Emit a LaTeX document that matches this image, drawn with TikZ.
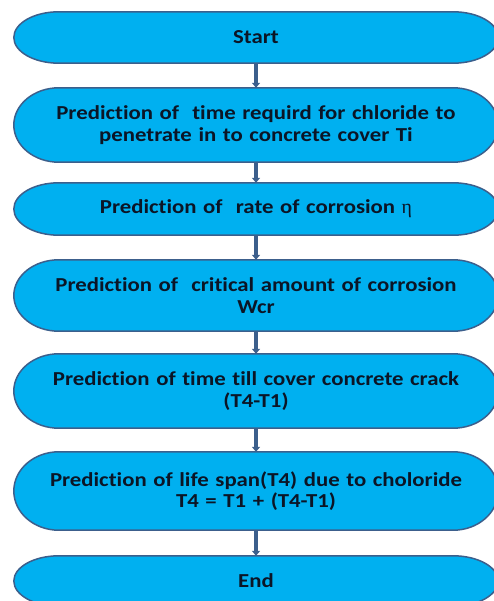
\documentclass[tikz,border=0pt]{standalone}
\usepackage{fontspec}
\setmainfont{Carlito}[FakeStretch=1.15,Ligatures=NoCommon]
\newfontfamily\grk{Liberation Serif}
\usetikzlibrary{arrows.meta,backgrounds,calc}
\definecolor{boxfill}{HTML}{00B0F0}
\definecolor{boxedge}{HTML}{3C5F8C}
\definecolor{txt}{HTML}{0B1526}
\begin{document}
\begin{tikzpicture}[x=1pt,y=1pt,font=\fontsize{19.8}{21.5}\selectfont\bfseries,
	stage/.style={minimum width=484pt,minimum height=#1,text width=460pt,align=center,inner sep=0pt,text=txt},
	flow/.style={draw=boxedge,line width=3.5pt,-{Triangle[width=8pt,length=5pt]}}]
	\def\R{45pt} % ends of the boxes
	\useasboundingbox (0,0) rectangle (493,-601);
	\clip (0,0) rectangle (493,-601);
	\node[stage=51pt] (start) at (256,-37.5) {Start};
	\node[stage=74pt] (ti) at (256,-125) {Prediction of\ \ time requird for chloride to\\penetrate in to concrete cover Ti};
	\node[stage=52pt] (eta) at (256,-209) {Prediction of\ \ rate of corrosion {\grk\mdseries η}};
	\node[stage=71pt] (wcr) at (256,-295.5) {Prediction of\ \ critical amount of corrosion\\Wcr};
	\node[stage=74pt] (crack) at (256,-391) {Prediction of time till cover concrete crack\\(T4-T1)};
	\node[stage=78pt] (life) at (256,-491) {Prediction of life span(T4) due to choloride\\T4 = T1 + (T4-T1)};
	\node[stage=50pt] (end) at (256,-581) {End};
	\begin{scope}[on background layer]
		\foreach \b in {start,ti,eta,wcr,crack,life,end}
		\draw[draw=boxedge,fill=boxfill,line width=1.5pt] let \p1=(\b.north), \p2=(\b.south) in
			([xshift=\R]\b.north west) -- ([xshift=-\R]\b.north east)
			arc[start angle=90,end angle=-90,x radius=\R,y radius={(\y1-\y2)/2}]
			-- ([xshift=\R]\b.south west)
			arc[start angle=270,end angle=90,x radius=\R,y radius={(\y1-\y2)/2}] -- cycle;
	\end{scope}
	\draw[flow] (start) -- (ti);
	\draw[flow] (ti) -- (eta);
	\draw[flow] (eta) -- (wcr);
	\draw[flow] (wcr) -- (crack);
	\draw[flow] (crack) -- (life);
	\draw[flow] (life) -- (end);
\end{tikzpicture}
\end{document}
